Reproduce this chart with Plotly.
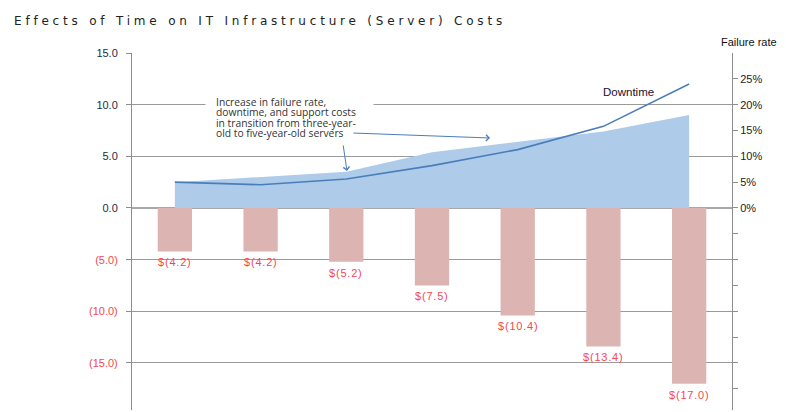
import plotly.graph_objects as go

# ---- data ----
years = ["Year 1", "Year 2", "Year 3", "Year 4", "Year 5", "Year 6", "Year 7"]
support_costs = [-4.2, -4.2, -5.2, -7.5, -10.4, -13.4, -17.0]      # $ (left axis)
failure_rate_area = [5.0, 6.0, 7.0, 10.8, 12.8, 14.8, 18.0]        # % (right axis)
downtime = [5.0, 4.5, 5.6, 8.2, 11.3, 15.8, 24.0]                  # % (right axis)
left_ticks = [15, 10, 5, 0, -5, -10, -15]
right_ticks = [25, 20, 15, 10, 5, 0, -5, -10, -15, -20, -25, -30, -35]

xs = list(range(len(years)))

def left_label(v):
    if v < 0:
        return '<span style="color:#f0484f">(%.1f)</span>' % abs(v)
    return "%.1f" % v

def right_label(v):
    return "%d%%" % v if v >= 0 else ""

fig = go.Figure()

fig.add_trace(go.Scatter(
    x=xs, y=failure_rate_area, yaxis="y2", mode="lines",
    line=dict(width=0, color="#aecbe9"), fill="tozeroy", fillcolor="#aecbe9",
    hoverinfo="skip", showlegend=False))
fig.add_trace(go.Scatter(
    x=xs, y=downtime, yaxis="y2", mode="lines",
    line=dict(width=1.6, color="#4a7ebb"), showlegend=False))
fig.add_trace(go.Bar(
    x=xs, y=support_costs, width=0.4, marker=dict(color="#dcb5b3", line=dict(width=0)),
    showlegend=False))

annotations = []
for x, v in zip(xs, support_costs):
    annotations.append(dict(
        x=x, y=v, xref="x", yref="y", yanchor="top", yshift=-3, showarrow=False,
        text='<span style="letter-spacing:0.8px">$(%.1f)</span>' % abs(v),
        font=dict(family="Liberation Sans, Arial", size=11, color="#f5474f")))

# Title
annotations.append(dict(
    x=-0.2, y=1.091, xref="paper", yref="paper", xanchor="left", yanchor="middle",
    showarrow=False,
    text='<span style="letter-spacing:3.8px">Effects of Time on IT Infrastructure (Server) Costs</span>',
    font=dict(family="DejaVu Sans, Verdana", size=12, color="#222222")))
# Right axis title
annotations.append(dict(
    x=0.978, y=1.031, xref="paper", yref="paper", xanchor="left", yanchor="middle",
    showarrow=False, text="Failure rate",
    font=dict(family="Liberation Sans, Arial", size=11, color="#111111")))
# Downtime label
annotations.append(dict(
    x=(628 - 132) / 600, y=(410 - 92) / 357, xref="paper", yref="paper",
    xanchor="center", yanchor="middle", showarrow=False, text="Downtime",
    font=dict(family="Liberation Sans, Arial", size=11.5, color="#1a1030")))

# Callout text (white background box) and arrows
callout_lines = ["Increase in failure rate,", "downtime, and support costs",
                 "in transition from three-year-", "old to five-year-old servers"]
annotations.append(dict(
    x=(205 - 132) / 600, y=(410 - 95) / 357, xref="paper", yref="paper",
    xanchor="left", yanchor="top", showarrow=False, text="",
    width=165, height=50, bgcolor="white"))
for i, line in enumerate(callout_lines):
    annotations.append(dict(
        x=(214 - 132) / 600, y=(410 - (102 + i * 10.3)) / 357, xref="paper", yref="paper",
        xanchor="left", yanchor="middle", showarrow=False, text=line,
        font=dict(family="Open Sans", size=10.3, color="#333333")))

def dx(px):
    return (px - 132) / (600 / 7) - 0.5

def dy(py):
    return (208 - py) / (155 / 15)

annotations.append(dict(
    x=dx(490), y=dy(138), ax=dx(352), ay=dy(133), xref="x", yref="y", axref="x", ayref="y",
    text="", showarrow=True, arrowhead=4, arrowsize=1.2, arrowwidth=1, arrowcolor="#4a7ebb"))
annotations.append(dict(
    x=dx(347), y=dy(171), ax=dx(343), ay=dy(144), xref="x", yref="y", axref="x", ayref="y",
    text="", showarrow=True, arrowhead=4, arrowsize=1.2, arrowwidth=1, arrowcolor="#4a7ebb"))

# page has an 8px body margin: figure occupies page from (8, 8)
fig.update_layout(
    width=778, height=404,
    margin=dict(l=124, r=54, t=45, b=2),
    paper_bgcolor="white", plot_bgcolor="white",
    bargap=0.6,
    xaxis=dict(range=[-0.5, 6.5], visible=False, showgrid=False, zeroline=False),
    yaxis=dict(range=[-19.55, 15], tickvals=left_ticks,
               ticktext=[left_label(v) for v in left_ticks],
               showgrid=True, gridcolor="#9a9a9a", gridwidth=1,
               zeroline=True, zerolinecolor="#a8a8a8", zerolinewidth=2,
               showline=True, linecolor="#8c8c8c", linewidth=1,
               ticks="outside", ticklen=5, tickcolor="#8c8c8c", ticklabelstandoff=6,
               tickfont=dict(family="Liberation Sans, Arial", size=11, color="#1f2a44")),
    yaxis2=dict(range=[-39.1, 30], overlaying="y", side="right",
                tickvals=right_ticks, ticktext=[right_label(v) for v in right_ticks],
                showgrid=False, zeroline=False,
                showline=True, linecolor="#8c8c8c", linewidth=1,
                ticks="outside", ticklen=5, tickcolor="#8c8c8c",
                tickfont=dict(family="Liberation Sans, Arial", size=11, color="#222222")),
    annotations=annotations,
    font=dict(family="Liberation Sans, Arial"),
)

fig.write_html("out.html")
